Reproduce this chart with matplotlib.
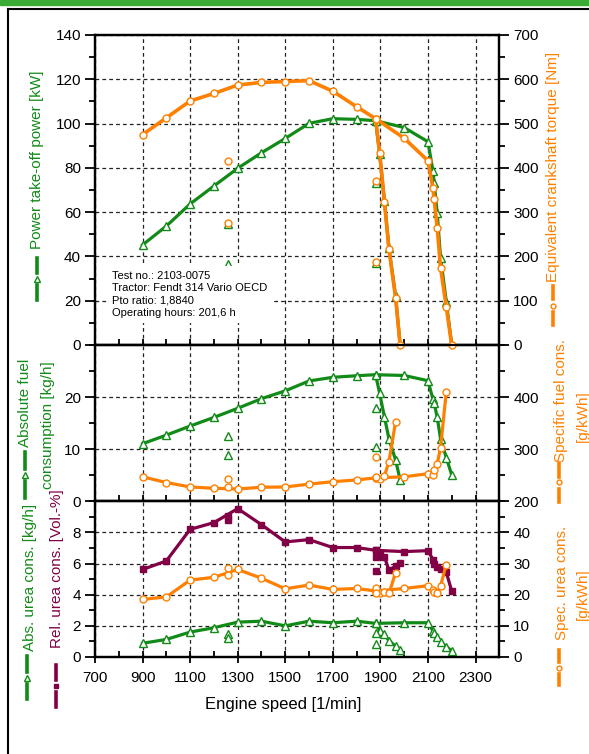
import matplotlib
matplotlib.use("Agg")
import matplotlib.pyplot as plt
from matplotlib.lines import Line2D
from matplotlib.ticker import MultipleLocator, FixedLocator

plt.rcParams['font.family'] = ['Liberation Sans', 'DejaVu Sans']

W, H = 589, 754
GREEN = '#128a18'
ORANGE = '#ff8000'
PURPLE = '#820045'

# full-load curve (engine speed in 1/min)
rpm_fl = [900, 1000, 1100, 1200, 1300, 1400, 1500, 1600, 1700, 1800, 1880,
          2000, 2100, 2121, 2126, 2139, 2153, 2177, 2200]
power_fl = [45.2, 53.7, 63.7, 71.8, 79.8, 86.8, 93.3, 100.1, 102.2, 101.9, 101.3,
            98.2, 91.8, 78.6, 73.3, 59.4, 39.5, 19.6, 0]
torque_fl = [475, 513, 551, 568, 587, 593, 595, 597, 573, 538, 511,
             467, 416, 354, 329, 265, 175, 86, 0]
fuel_fl = [11.05, 12.7, 14.45, 16.1, 17.85, 19.7, 21.2, 23.1, 23.8, 24.1, 24.3,
           24.15, 23.15, 19.6, 18.9, 16.1, 12.0, 8.4, 5.05]
sfc_fl = [247, 236, 227.5, 225, 223.6, 227, 227.5, 233, 237.6, 241, 245,
          247, 253, 250, 260, 272, 303, 410]
urea_fl = [0.88, 1.13, 1.6, 1.88, 2.24, 2.3, 2.0, 2.3, 2.2, 2.3, 2.16,
           2.2, 2.2, 1.67, 1.52, 1.3, 0.98, 0.66, 0.4]
rel_urea_fl = [5.62, 6.17, 8.2, 8.63, 9.53, 8.5, 7.39, 7.54, 7.03, 7.03, 6.85,
               6.77, 6.83, 6.26, 6.0, 5.79, 5.66, 5.45, 4.23]
spec_urea_fl = [18.5, 19.3, 24.7, 25.6, 28.1, 25.3, 21.9, 23.1, 21.7, 22.0, 21.2,
                22.0, 22.9, 21.5, 20.9, 20.6, 22.8, 29.7]

# first governor drop
rpm_d1 = [1880, 1897, 1917, 1936, 1964, 1983]
power_d1 = [101.3, 86.1, 65.0, 43.8, 22.0, 0]
torque_d1 = [511, 433, 324, 216, 107, 0]
fuel_d1 = [24.3, 20.7, 16.2, 12.0, 7.9, 4.1]
sfc_d1 = [245, 242, 248.6, 276, 353]
urea_d1 = [2.16, 1.7, 1.45, 1.05, 0.7, 0.45]
rel_urea_d1 = [6.85, 6.6, 6.43, 5.58, 5.83, 6.04]
spec_urea_d1 = [21.2, 20.4, 20.9, 20.4, 27.1]

# part-load points
rpm_pl = [1258, 1258, 1880, 1880]
power_pl = [54.6, 36.5, 73.0, 37.0]
torque_pl = [416, 276, 370, 188]
fuel_pl = [12.6, 8.95, 18.0, 10.5]
sfc_pl = [228, 242, 246, 285.6]
urea_pl = [1.5, 1.2, 1.55, 0.82]
rel_urea_pl = [9.04, 8.78, 6.45, 5.53]
spec_urea_pl = [28.7, 26.2, 22.3, 20.6]

speed_ticks = [700, 900, 1100, 1300, 1500, 1700, 1900, 2100, 2300]

info = "Test no.: 2103-0075\nTractor: Fendt 314 Vario OECD\nPto ratio: 1,8840\nOperating hours: 201,6 h"


def fx(x):
    return x / W


def fy(y):
    return 1 - y / H


fig = plt.figure(figsize=(W / 100, H / 100), dpi=100)


def panel(top, bottom):
    return fig.add_axes([fx(95), fy(bottom), (499.3 - 95) / W, (bottom - top) / H])


ax1 = panel(35, 345)
ax2 = panel(345, 501.3)
ax3 = panel(501.3, 657)
ax1r = ax1.twinx()
ax2r = ax2.twinx()
ax3r = ax3.twinx()

MK = {'^': dict(marker='^', ms=5.5, mfc='white'),
      'o': dict(marker='o', ms=5, mfc='white'),
      's': dict(marker='s', ms=4.5)}


def curve(ax, x, y, color, m, lw=2.3):
    ax.plot(x, y, color=color, lw=lw, mec=color, mew=1, clip_on=False, zorder=3, **MK[m])


def dots(ax, x, y, color, m):
    ax.plot(x, y, ls='none', color=color, mec=color, mew=1, clip_on=False, zorder=3, **MK[m])


# top: power / torque
curve(ax1, rpm_fl, power_fl, GREEN, '^')
curve(ax1, rpm_d1, power_d1, GREEN, '^')
dots(ax1, rpm_pl, power_pl, GREEN, '^')
curve(ax1r, rpm_fl, torque_fl, ORANGE, 'o', lw=2.6)
curve(ax1r, rpm_d1, torque_d1, ORANGE, 'o', lw=2.6)
dots(ax1r, rpm_pl, torque_pl, ORANGE, 'o')

# middle: fuel
curve(ax2, rpm_fl, fuel_fl, GREEN, '^')
curve(ax2, rpm_d1, fuel_d1, GREEN, '^')
dots(ax2, rpm_pl, fuel_pl, GREEN, '^')
curve(ax2r, rpm_fl[:-1], sfc_fl, ORANGE, 'o')
curve(ax2r, rpm_d1[:-1], sfc_d1, ORANGE, 'o')
dots(ax2r, rpm_pl, sfc_pl, ORANGE, 'o')

# bottom: urea
curve(ax3, rpm_fl, urea_fl, GREEN, '^')
curve(ax3, rpm_d1, urea_d1, GREEN, '^')
dots(ax3, rpm_pl, urea_pl, GREEN, '^')
curve(ax3, rpm_fl, rel_urea_fl, PURPLE, 's')
curve(ax3, rpm_d1, rel_urea_d1, PURPLE, 's')
dots(ax3, rpm_pl, rel_urea_pl, PURPLE, 's')
curve(ax3r, rpm_fl[:-1], spec_urea_fl, ORANGE, 'o')
curve(ax3r, rpm_d1[:-1], spec_urea_d1, ORANGE, 'o')
dots(ax3r, rpm_pl, spec_urea_pl, ORANGE, 'o')

# scales
scales = [(ax1, 0, 140, 20, 10, True), (ax1r, 0, 700, 100, 50, True),
          (ax2, 0, 30, 10, 5, False), (ax2r, 200, 500, 100, 50, False),
          (ax3, 0, 10, 2, 1, False), (ax3r, 0, 50, 10, 5, False)]
for ax, lo, hi, major, minor, keep_top in scales:
    ax.set_ylim(lo, hi)
    ticks = list(range(lo, hi + 1, major))
    if not keep_top:
        ticks = ticks[:-1]
    ax.yaxis.set_major_locator(FixedLocator(ticks))
    ax.yaxis.set_minor_locator(MultipleLocator(minor))
    ax.tick_params(axis='y', which='major', direction='out', length=7, width=1.3,
                   labelsize=11, pad=3)
    ax.tick_params(axis='y', which='minor', direction='out', length=4, width=1.3)
    for s in ax.spines.values():
        s.set_linewidth(1.6)

for ax in (ax1, ax2, ax3):
    ax.set_xlim(700, 2400)
    ax.xaxis.set_major_locator(FixedLocator(speed_ticks))
    ax.xaxis.set_minor_locator(MultipleLocator(100))
    ax.tick_params(axis='x', which='both', direction='in', length=4, width=1.3)
    ax.grid(True, which='major', ls=(0, (3, 2.5)), color='#222222', lw=0.9)
    ax.set_axisbelow(True)
ax1.tick_params(axis='x', labelbottom=False)
ax2.tick_params(axis='x', labelbottom=False)
ax3.tick_params(axis='x', which='major', direction='inout', length=8, labelsize=11, pad=6)
fig.text(fx(283), fy(705), "Engine speed [1/min]", ha='center', va='center', fontsize=12)

fig.text(fx(112), fy(271), info, ha='left', va='top', fontsize=8, linespacing=1.3,
         bbox=dict(boxstyle='square,pad=0.45', facecolor='white', edgecolor='none'))


def label(x, y, s, color, size=11):
    fig.text(fx(x), fy(y), s, rotation=90, ha='center', va='center', color=color, fontsize=size)


def sample(x, y0, y1, color, m):
    ym = (y0 + y1) / 2
    for a, b in ((y0, ym - 6), (ym + 6, y1)):
        fig.add_artist(Line2D([fx(x), fx(x)], [fy(a), fy(b)], color=color, lw=2.6))
    st = dict(MK[m])
    st['ms'] = st['ms'] - 1.5
    fig.add_artist(Line2D([fx(x)], [fy(ym)], ls='none', color=color, mec=color, mew=1, **st))


label(37, 160, "Power take-off power [kW]", GREEN)
sample(37, 258, 300, GREEN, '^')
label(553, 167, "Equivalent crankshaft torque [Nm]", ORANGE)
sample(553, 286, 325, ORANGE, 'o')

label(25, 403, "Absolute fuel", GREEN)
label(48, 425, "consumption [kg/h]", GREEN)
sample(25, 452, 498, GREEN, '^')
label(561, 401, "Specific fuel cons.", ORANGE)
label(583, 416, "[g/kWh]", ORANGE)
sample(559, 463, 502, ORANGE, 'o')

label(30, 577, "Abs. urea cons. [kg/h]", GREEN)
sample(27, 656, 699, GREEN, '^')
label(57, 569, "Rel. urea cons. [Vol.-%]", PURPLE)
sample(56, 665, 707, PURPLE, 's')
label(562, 583, "Spec. urea cons.", ORANGE)
label(583, 594, "[g/kWh]", ORANGE)
sample(559, 650, 685, ORANGE, 'o')

# page frame
fig.add_artist(plt.Rectangle((0, fy(4.5)), 1, 4.5 / H, color='#3cab35',
                             transform=fig.transFigure))
fig.add_artist(Line2D([fx(7.5), 1], [fy(9), fy(9)], color='black', lw=1.5))
fig.add_artist(Line2D([fx(7.5), fx(7.5)], [fy(9), 0], color='black', lw=1.5))

fig.savefig("out.png", dpi=100)
